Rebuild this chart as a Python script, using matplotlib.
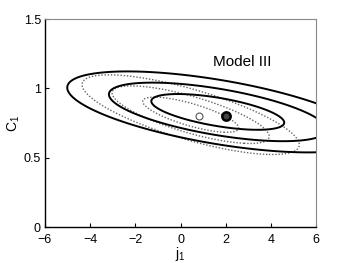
import numpy as np
import matplotlib
matplotlib.use("Agg")
import matplotlib.pyplot as plt

plt.rcParams['font.family'] = ['Liberation Sans', 'DejaVu Sans']
plt.rcParams['mathtext.fontset'] = 'custom'
plt.rcParams['mathtext.rm'] = 'Liberation Sans'
plt.rcParams['mathtext.it'] = 'Liberation Sans'

# Confidence-region parameters (center, sigmas, correlation)
solid_center = [1.65, 0.83]
solid_sigma = [1.94, 0.085]
solid_rho = -0.60

dotted_center = [0.45, 0.81]
dotted_sigma = [1.40, 0.0836]
dotted_rho = -0.754

chi2_levels = [2.30, 6.17, 11.8]

best_fit = [2.0, 0.8]
alt_fit = [0.8, 0.8]

xticks = [-6, -4, -2, 0, 2, 4, 6]
yticks = [0, 0.5, 1, 1.5]
ytick_labels = ["0", "0.5", "1", "1.5"]

fig = plt.figure(figsize=(3.49, 2.63), dpi=100)
ax = fig.add_axes([45/349, 1-227/263, (316-45)/349, (227-19)/263])

X, Y = np.meshgrid(np.linspace(-7, 9, 700), np.linspace(0.2, 1.5, 700))

def chi2(c, s, r):
    dx = (X - c[0]) / s[0]
    dy = (Y - c[1]) / s[1]
    return (dx**2 - 2*r*dx*dy + dy**2) / (1 - r**2)

ax.contour(X, Y, chi2(dotted_center, dotted_sigma, dotted_rho), levels=chi2_levels,
           colors='#666666', linestyles=[(0, (1, 1.3))], linewidths=1.0)
ax.contour(X, Y, chi2(solid_center, solid_sigma, solid_rho), levels=chi2_levels,
           colors='black', linestyles='solid', linewidths=1.4)

ax.plot(alt_fit[0], alt_fit[1], 'o', ms=5, mfc='white', mec='#555555', mew=0.8)
ax.plot(best_fit[0], best_fit[1], 'o', ms=6, mfc='#444444', mec='black', mew=1.8)

ax.text(2.75, 1.19, "Model III", fontsize=11, ha='center', va='center')

ax.set_xlim(-6, 6)
ax.set_ylim(0, 1.5)
ax.set_xticks(xticks)
ax.set_xticklabels([str(t).replace('-', '\u2212') for t in xticks])
ax.set_yticks(yticks)
ax.set_yticklabels(ytick_labels)
ax.tick_params(direction='in', length=3, labelsize=9, width=0.8)
ax.tick_params(axis='x', pad=5)
ax.tick_params(axis='y', pad=3)
for s in ['top', 'right']:
    ax.spines[s].set_color('#888888')
    ax.spines[s].set_linewidth(0.8)
for s in ['left', 'bottom']:
    ax.spines[s].set_linewidth(1.0)

ax.set_xlabel('j$_1$', fontsize=10, labelpad=-1)
ax.set_ylabel('C$_1$', fontsize=10, labelpad=1)

fig.savefig('out.png', dpi=100)
